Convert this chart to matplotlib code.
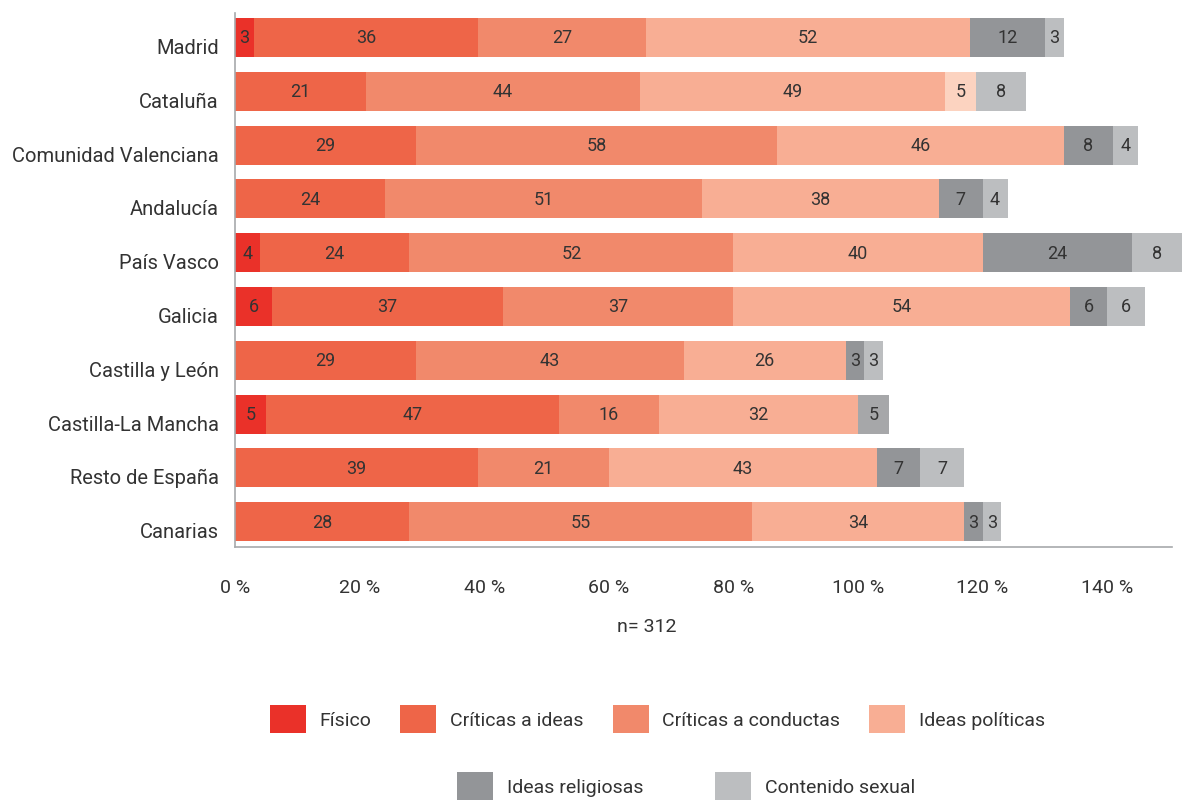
import matplotlib
matplotlib.use("Agg")
import matplotlib.pyplot as plt
import matplotlib.transforms as mtransforms
from matplotlib.patches import Patch
import numpy as np

plt.rcParams["font.family"] = ["Roboto", "DejaVu Sans"]

regiones = ["Madrid", "Cataluña", "Comunidad Valenciana", "Andalucía", "País Vasco",
            "Galicia", "Castilla y León", "Castilla-La Mancha", "Resto de España", "Canarias"]

fisico = [3, 0, 0, 0, 4, 6, 0, 5, 0, 0]
criticas_ideas = [36, 21, 29, 24, 24, 37, 29, 47, 39, 28]
criticas_conductas = [27, 44, 58, 51, 52, 37, 43, 16, 21, 55]
ideas_politicas = [52, 49, 46, 38, 40, 54, 26, 32, 43, 34]
ideas_religiosas = [12, 5, 8, 7, 24, 6, 3, 5, 7, 3]
contenido_sexual = [3, 8, 4, 4, 8, 6, 3, 0, 7, 3]

series = [
    ("Físico", fisico, "#EA3129"),
    ("Críticas a ideas", criticas_ideas, "#EE6548"),
    ("Críticas a conductas", criticas_conductas, "#F1896B"),
    ("Ideas políticas", ideas_politicas, "#F8AE94"),
    ("Ideas religiosas", ideas_religiosas, "#939598"),
    ("Contenido sexual", contenido_sexual, "#BCBEC0"),
]
# a couple of cells are printed in their own shade
overrides = {("Ideas religiosas", "Cataluña"): "#FCD3C0",
             ("Ideas religiosas", "Castilla-La Mancha"): "#A6A7A9"}

text_color = "#333333"
fig = plt.figure(figsize=(11.89, 8.03), dpi=100)
ax = fig.add_axes([235 / 1189, 1 - 548 / 803, (1172 - 235) / 1189, (548 - 14) / 803])

y = np.arange(len(regiones))
left = np.zeros(len(regiones))
for name, vals, color in series:
    vals = np.array(vals, dtype=float)
    colors = [overrides.get((name, r), color) for r in regiones]
    bars = ax.barh(y, vals, left=left, height=0.725, color=colors, clip_on=False)
    for b, v in zip(bars, vals):
        if v > 0:
            ax.text(b.get_x() + b.get_width() / 2, b.get_y() + b.get_height() / 2,
                    f"{int(v)}", ha="center", va="center", fontsize=13, color=text_color)
    left += vals

ax.set_xlim(0, 150.4)
ax.set_ylim(len(regiones) - 1 + 0.47, -0.455)
ax.set_yticks([])
# region names sit a little below the bar centres
shift = mtransforms.ScaledTranslation(-16 / 100, -10 / 100, fig.dpi_scale_trans)
for yi, r in zip(y, regiones):
    ax.text(0, yi, r, transform=ax.get_yaxis_transform() + shift,
            ha="right", va="center", fontsize=14.5, color=text_color)
ax.set_xticks(np.arange(0, 141, 20))
ax.set_xticklabels([f"{t} %" for t in range(0, 141, 20)], fontsize=14, color=text_color)
ax.tick_params(axis="both", length=0)
ax.tick_params(axis="x", pad=22)
ax.set_xlabel("n= 312", fontsize=14, color=text_color)
ax.xaxis.set_label_coords(0.439, -70 / 534)
for s in ["top", "right"]:
    ax.spines[s].set_visible(False)
for s in ["left", "bottom"]:
    ax.spines[s].set_color("#A7A9AC")
    ax.spines[s].set_linewidth(1.2)

handles = [Patch(facecolor=c, label=n) for n, _, c in series]
leg_kw = dict(frameon=False, fontsize=14, handlelength=1.85, handleheight=1.85,
              handletextpad=0.7, labelcolor=text_color)
fig.legend(handles=handles[:4], ncol=4, loc="center", columnspacing=1.5,
           bbox_to_anchor=(0.553, 1 - 720 / 803), **leg_kw)
fig.legend(handles=handles[4:], ncol=2, loc="center", columnspacing=3.7,
           bbox_to_anchor=(0.577, 1 - 787 / 803), **leg_kw)

fig.savefig("out.png", dpi=100)
